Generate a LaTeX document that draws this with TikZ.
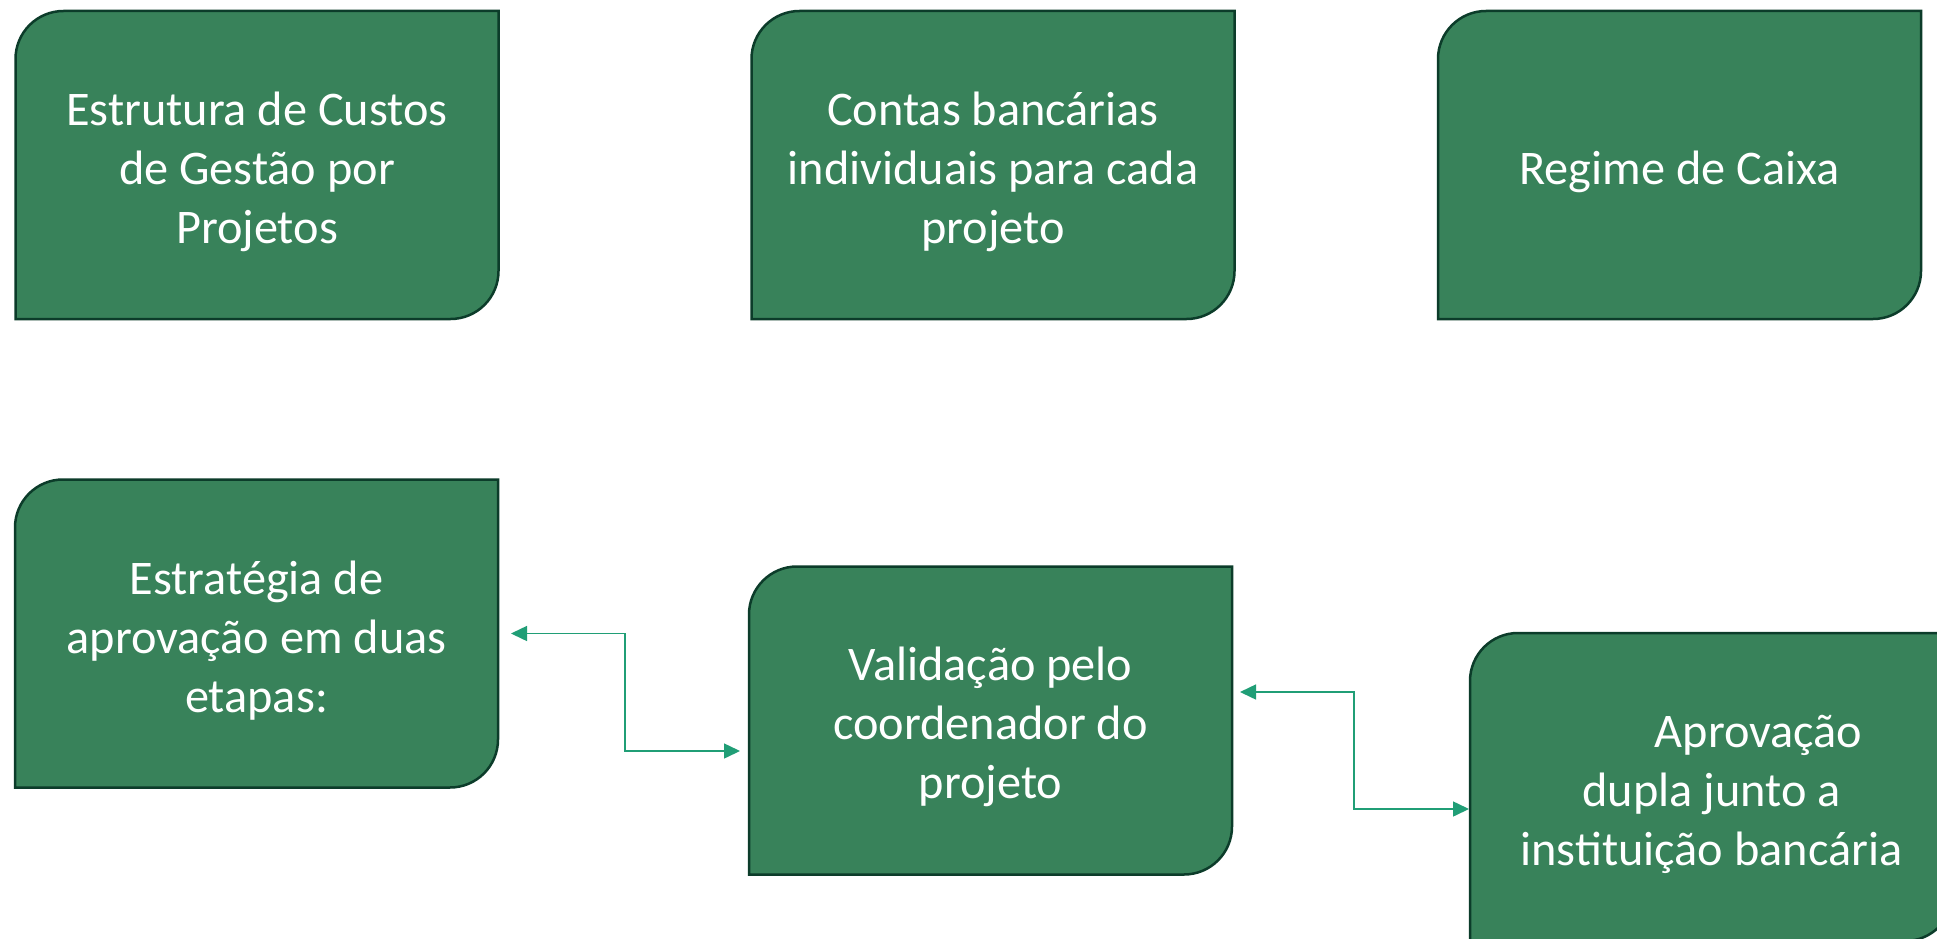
\documentclass[tikz,border=0pt]{standalone}
\usepackage{fontspec}
\setmainfont{Carlito}
\usetikzlibrary{arrows.meta,backgrounds}
\definecolor{grn}{RGB}{56,130,90}
\definecolor{bdr}{RGB}{12,60,42}
\definecolor{conncol}{RGB}{32,158,118}
\newcommand{\gshape}[1]{%
  \path[gfill] (#1.south west) -- ([yshift=-48pt]#1.north west)
    arc[start angle=180,end angle=90,radius=48pt] -- (#1.north east)
    -- ([yshift=48pt]#1.south east)
    arc[start angle=0,end angle=-90,radius=48pt] -- cycle;}
\newcommand{\fl}{\rule{0pt}{47pt}}
\begin{document}
\begin{tikzpicture}[x=1pt,y=-1pt,
  gbox/.style={minimum width=483pt,minimum height=308pt,inner sep=0pt,outer sep=0pt,
    text=white,align=center,font=\fontsize{48.3}{59}\selectfont},
  gfill/.style={fill=grn,draw=bdr,line width=2.5pt},
  conn/.style={draw=conncol,line width=1.5pt,
    {Triangle[length=16pt,width=15pt]}-{Triangle[length=16pt,width=15pt]}}]
\useasboundingbox (0,0) rectangle (1937,939);
\node[gbox] (b1) at (257,165) {\fl Estrutura de Custos\\de Gestão por\\Projetos};
\node[gbox] (b2) at (993,165) {\fl Contas bancárias\\individuais para cada\\projeto};
\node[gbox] (b3) at (1679.5,165) {\fl Regime de Caixa};
\node[gbox] (b4) at (256.5,633.5) {\fl Estratégia de\\aprovação em duas\\etapas:};
\node[gbox] (b5) at (990.5,720.5) {\fl Validação pelo\\coordenador do\\projeto};
\node[gbox] (b6) at (1711.5,787) {\fl\hspace*{94pt}Aprovação\\dupla junto a\\instituição bancária};
\begin{pgfonlayer}{background}
\fill[white] (0,0) rectangle (1937,939);
\gshape{b1}\gshape{b2}\gshape{b3}\gshape{b4}\gshape{b5}\gshape{b6}
\end{pgfonlayer}
\draw[conn] ([xshift=13pt]b4.east) -- ++(114,0) |- ([xshift=-9pt,yshift=-30.5pt]b5.west);
\draw[conn] ([xshift=8pt,yshift=28.5pt]b5.east) -- ++(114,0) |- ([xshift=-1pt,yshift=-22pt]b6.west);
\end{tikzpicture}
\end{document}
